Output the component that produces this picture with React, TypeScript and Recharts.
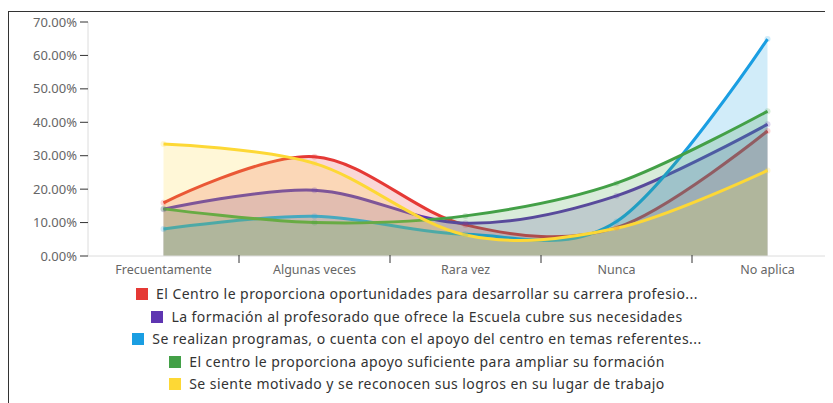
import { AreaChart, Area, XAxis, YAxis } from "recharts";

const categories = ["Frecuentamente", "Algunas veces", "Rara vez", "Nunca", "No aplica"];

const carrera = [15.9, 29.7, 9.3, 8.5, 37.4];
const formacion = [14.0, 19.7, 9.8, 18.0, 39.4];
const programas = [8.1, 11.9, 6.5, 10.3, 64.9];
const apoyo = [14.1, 10.0, 12.0, 21.8, 43.3];
const motivado = [33.5, 27.7, 6.3, 8.3, 25.6];

const yTicks = [0, 10, 20, 30, 40, 50, 60, 70];
const xTicks = [0, 0.5, 1, 1.5, 2, 2.5, 3, 3.5, 4];

const series = [
  { key: "carrera", values: carrera, color: "#e53935", name: "El Centro le proporciona oportunidades para desarrollar su carrera profesio..." },
  { key: "formacion", values: formacion, color: "#5e35b1", name: "La formación al profesorado que ofrece la Escuela cubre sus necesidades" },
  { key: "programas", values: programas, color: "#1a9ee2", name: "Se realizan programas, o cuenta con el apoyo del centro en temas referentes..." },
  { key: "apoyo", values: apoyo, color: "#43a047", name: "El centro le proporciona apoyo suficiente para ampliar su formación" },
  { key: "motivado", values: motivado, color: "#fdd835", name: "Se siente motivado y se reconocen sus logros en su lugar de trabajo" },
];

const data = categories.map((c, i) => {
  const row: Record<string, number | string> = { x: i, name: c };
  series.forEach((s) => (row[s.key] = s.values[i]));
  return row;
});

const FONT = "'Noto Sans', sans-serif";

// cardinal spline (tension 0), same shape as d3's curveCardinal
function cardinal(context: any): any {
  const k = 1 / 6;
  const c: any = { _context: context };
  const seg = (x: number, y: number) => {
    context.bezierCurveTo(
      c._x1 + k * (c._x2 - c._x0),
      c._y1 + k * (c._y2 - c._y0),
      c._x2 + k * (c._x1 - x),
      c._y2 + k * (c._y1 - y),
      c._x2,
      c._y2
    );
  };
  c.areaStart = () => { c._line = 0; };
  c.areaEnd = () => { c._line = NaN; };
  c.lineStart = () => {
    c._x0 = c._x1 = c._x2 = c._y0 = c._y1 = c._y2 = NaN;
    c._point = 0;
  };
  c.lineEnd = () => {
    if (c._point === 2) context.lineTo(c._x2, c._y2);
    else if (c._point === 3) seg(c._x1, c._y1);
    if (c._line || (c._line !== 0 && c._point === 1)) context.closePath();
    c._line = 1 - c._line;
  };
  c.point = (x: number, y: number) => {
    x = +x; y = +y;
    if (c._point === 0) {
      c._point = 1;
      if (c._line) context.lineTo(x, y); else context.moveTo(x, y);
    } else if (c._point === 1) {
      c._point = 2;
      c._x1 = x; c._y1 = y;
    } else {
      c._point = 3;
      seg(x, y);
    }
    c._x0 = c._x1; c._x1 = c._x2; c._x2 = x;
    c._y0 = c._y1; c._y1 = c._y2; c._y2 = y;
  };
  return c;
}

function XTick({ x, y, payload }: { x?: number; y?: number; payload?: { value: number } }) {
  const v = payload?.value ?? 0;
  if (!Number.isInteger(v)) {
    return <line x1={x} x2={x} y1={(y ?? 0) - 1} y2={(y ?? 0) + 7} stroke="#333" strokeWidth={1} />;
  }
  return (
    <text x={x} y={(y ?? 0) + 18} textAnchor="middle" fill="#666" fontSize={12.5} fontFamily={FONT}>
      {categories[v]}
    </text>
  );
}

export default function App() {
  return (
    <div
      style={{
        position: "relative",
        width: 825,
        height: 392,
        marginTop: 3,
        borderTop: "1px solid #333",
        borderLeft: "1px solid #333",
        overflow: "hidden",
        boxSizing: "border-box",
      }}
    >
      <AreaChart width={840} height={275} data={data} margin={{ top: 10, right: 6, bottom: 1, left: 0 }}>
        <XAxis
          dataKey="x"
          type="number"
          domain={[-0.5, 4.5]}
          ticks={xTicks}
          interval={0}
          tickSize={0}
          tickMargin={0}
          tickLine={false}
          axisLine={{ stroke: "#dcdcdc" }}
          tick={<XTick />}
          height={30}
        />
        <YAxis
          width={79}
          domain={[0, 70]}
          ticks={yTicks}
          interval={0}
          tickSize={8}
          tickMargin={3}
          tickLine={{ stroke: "#333" }}
          axisLine={{ stroke: "#dcdcdc" }}
          tick={{ fill: "#666", fontSize: 13, fontFamily: FONT }}
          tickFormatter={(v: number) => `${v.toFixed(2)}%`}
        />
        {series.map((s) => (
          <Area
            key={s.key}
            type={cardinal as any}
            dataKey={s.key}
            stroke={s.color}
            strokeWidth={3}
            fill={s.color}
            fillOpacity={0.2}
            dot={{ r: 3, fill: s.color, stroke: s.color, strokeWidth: 0 }}
            activeDot={false}
            isAnimationActive={false}
          />
        ))}
      </AreaChart>
      <div
        style={{
          position: "absolute",
          left: 0,
          top: 271,
          width: 816,
          fontFamily: FONT,
          fontSize: 14,
          letterSpacing: 0.45,
          color: "#333",
          textAlign: "center",
        }}
      >
        {series.map((s) => (
          <div key={s.key} style={{ height: 22.5, lineHeight: "22.5px", whiteSpace: "nowrap" }}>
            <span
              style={{
                display: "inline-block",
                width: 12,
                height: 12,
                background: s.color,
                marginRight: 8,
                verticalAlign: "-1px",
              }}
            />
            {s.name}
          </div>
        ))}
      </div>
    </div>
  );
}
